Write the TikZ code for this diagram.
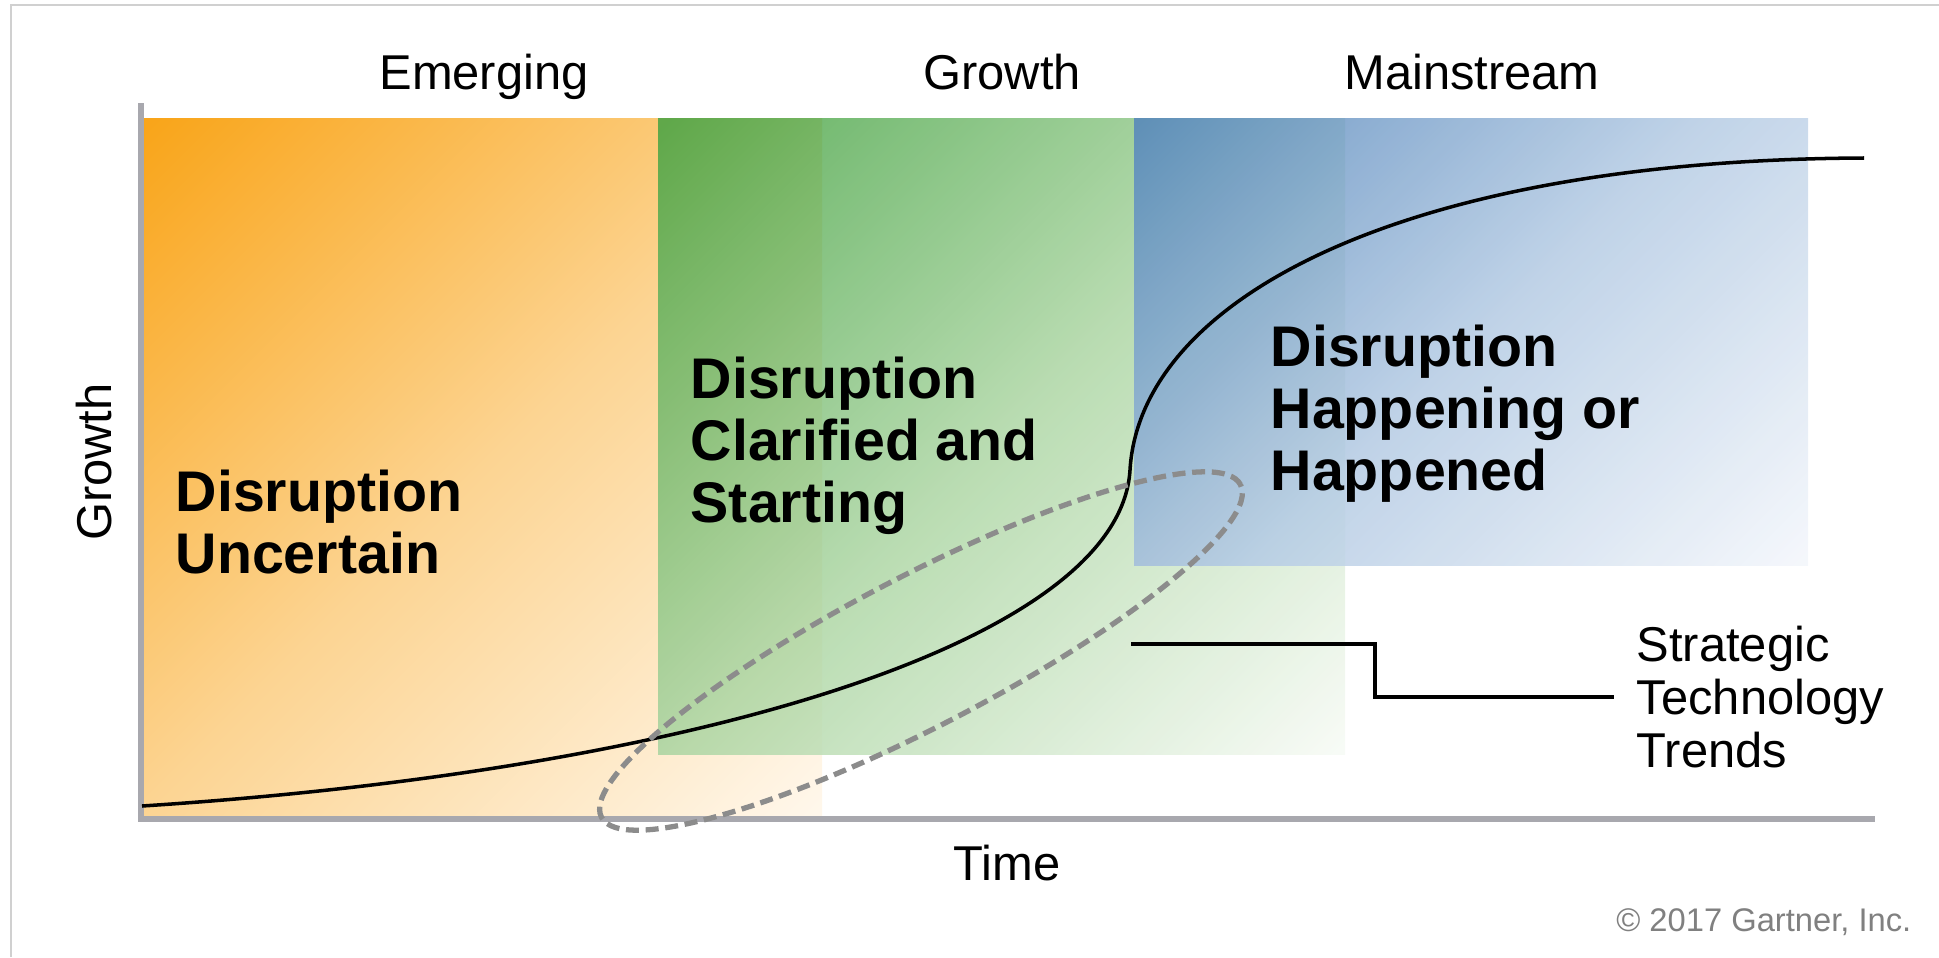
\documentclass[tikz,border=0pt]{standalone}
\usepackage{fontspec}
\setmainfont{Liberation Sans}

\definecolor{orangeFonce}{HTML}{F9A51A}
\definecolor{orangeMilieu}{HTML}{FCD492}
\definecolor{orangeClair}{HTML}{FFF7EB}
\definecolor{vertFonce}{HTML}{45A343}
\definecolor{vertMilieu}{HTML}{ADD6A4}
\definecolor{vertClair}{HTML}{F6FAF4}
\definecolor{bleuFonce}{HTML}{5788BC}
\definecolor{bleuMilieu}{HTML}{B6CCE4}
\definecolor{bleuClair}{HTML}{F3F6FB}
\definecolor{axe}{HTML}{A8A8AE}
\definecolor{cadre}{HTML}{D0D0D0}
\definecolor{tirets}{HTML}{8C8C8C}

% Degrades d'un coin a l'autre (avec shading angle=45)
\pgfdeclareverticalshading{zoneOrange}{100bp}{color(0bp)=(orangeClair); color(15bp)=(orangeClair); color(50bp)=(orangeMilieu); color(85bp)=(orangeFonce); color(100bp)=(orangeFonce)}
\pgfdeclareverticalshading{zoneVerte}{100bp}{color(0bp)=(vertClair); color(15bp)=(vertClair); color(50bp)=(vertMilieu); color(85bp)=(vertFonce); color(100bp)=(vertFonce)}
\pgfdeclareverticalshading{zoneBleue}{100bp}{color(0bp)=(bleuClair); color(15bp)=(bleuClair); color(50bp)=(bleuMilieu); color(85bp)=(bleuFonce); color(100bp)=(bleuFonce)}

\tikzset{
  etiquette/.style={font=\fontsize{13.9pt}{15.1pt}\selectfont, inner sep=0pt},
  phase/.style={font=\fontsize{16.3pt}{17.6pt}\selectfont\bfseries, align=left, anchor=west, inner sep=0pt},
}

\begin{document}
\begin{tikzpicture}[x=0.01cm, y=-0.01cm]
    \useasboundingbox (0,0) rectangle (1939,957);

    % Cadre gris (haut et gauche)
    \draw[cadre, line width=0.6pt] (11,957) -- (11,5) -- (1939,5);

    % Les trois zones en degrade
    \shade[shading=zoneOrange, shading angle=45] (143,118) rectangle (822,817);
    \shade[shading=zoneVerte, shading angle=45, opacity=.85] (658,118) rectangle (1345,754);
    \shade[shading=zoneBleue, shading angle=45, opacity=.88] (1134,118) rectangle (1808,565);

    % Axes
    \draw[axe, line width=1.6pt] (141,103) -- (141,819) -- (1875,819);

    % Courbe en S
    \draw[line width=1pt] (142,806) .. controls (700,770) and (1120,640) .. (1130,470)
        .. controls (1140,300) and (1400,160) .. (1864,158);

    % Ellipse en tirets
    \draw[tirets, line width=1.5pt, dash pattern=on 3.7pt off 1.9pt,
        rotate around={27.5:(921,651)}] (921,651) ellipse [x radius=3.6cm, y radius=0.75cm];

    % Titres des phases
    \foreach \nom/\x in {Emerging/484, Growth/1002, Mainstream/1472}
        \node[etiquette, anchor=base] (\nom) at (\x,89) {\nom};

    % Textes des zones
    \node[phase] (incertaine) at (175,522) {Disruption\\Uncertain};
    \node[phase] (clarifiee) at (690,446) {Disruption\\Clarified and\\Starting};
    \node[phase] (arrivee) at (1270,414) {Disruption\\Happening or\\Happened};

    % Noms des axes
    \node[etiquette] (temps) at (1007,863) {Time};
    \node[etiquette, rotate=90] (croissance) at (94,462) {Growth};

    % Renvoi vers les tendances
    \coordinate (depart) at (1131,644);
    \node[etiquette, align=left, anchor=west, inner xsep=0.22cm] (tendances) at (1614,697) {Strategic\\Technology\\Trends};
    \draw[line width=1pt] (depart) -- ++(244,0) |- (tendances.west);

    % Copyright
    \node[font=\fontsize{9.3pt}{11pt}\selectfont, text=gray, anchor=east, inner sep=0pt] (copyright) at (1912,922) {© 2017 Gartner, Inc.};
\end{tikzpicture}
\end{document}
